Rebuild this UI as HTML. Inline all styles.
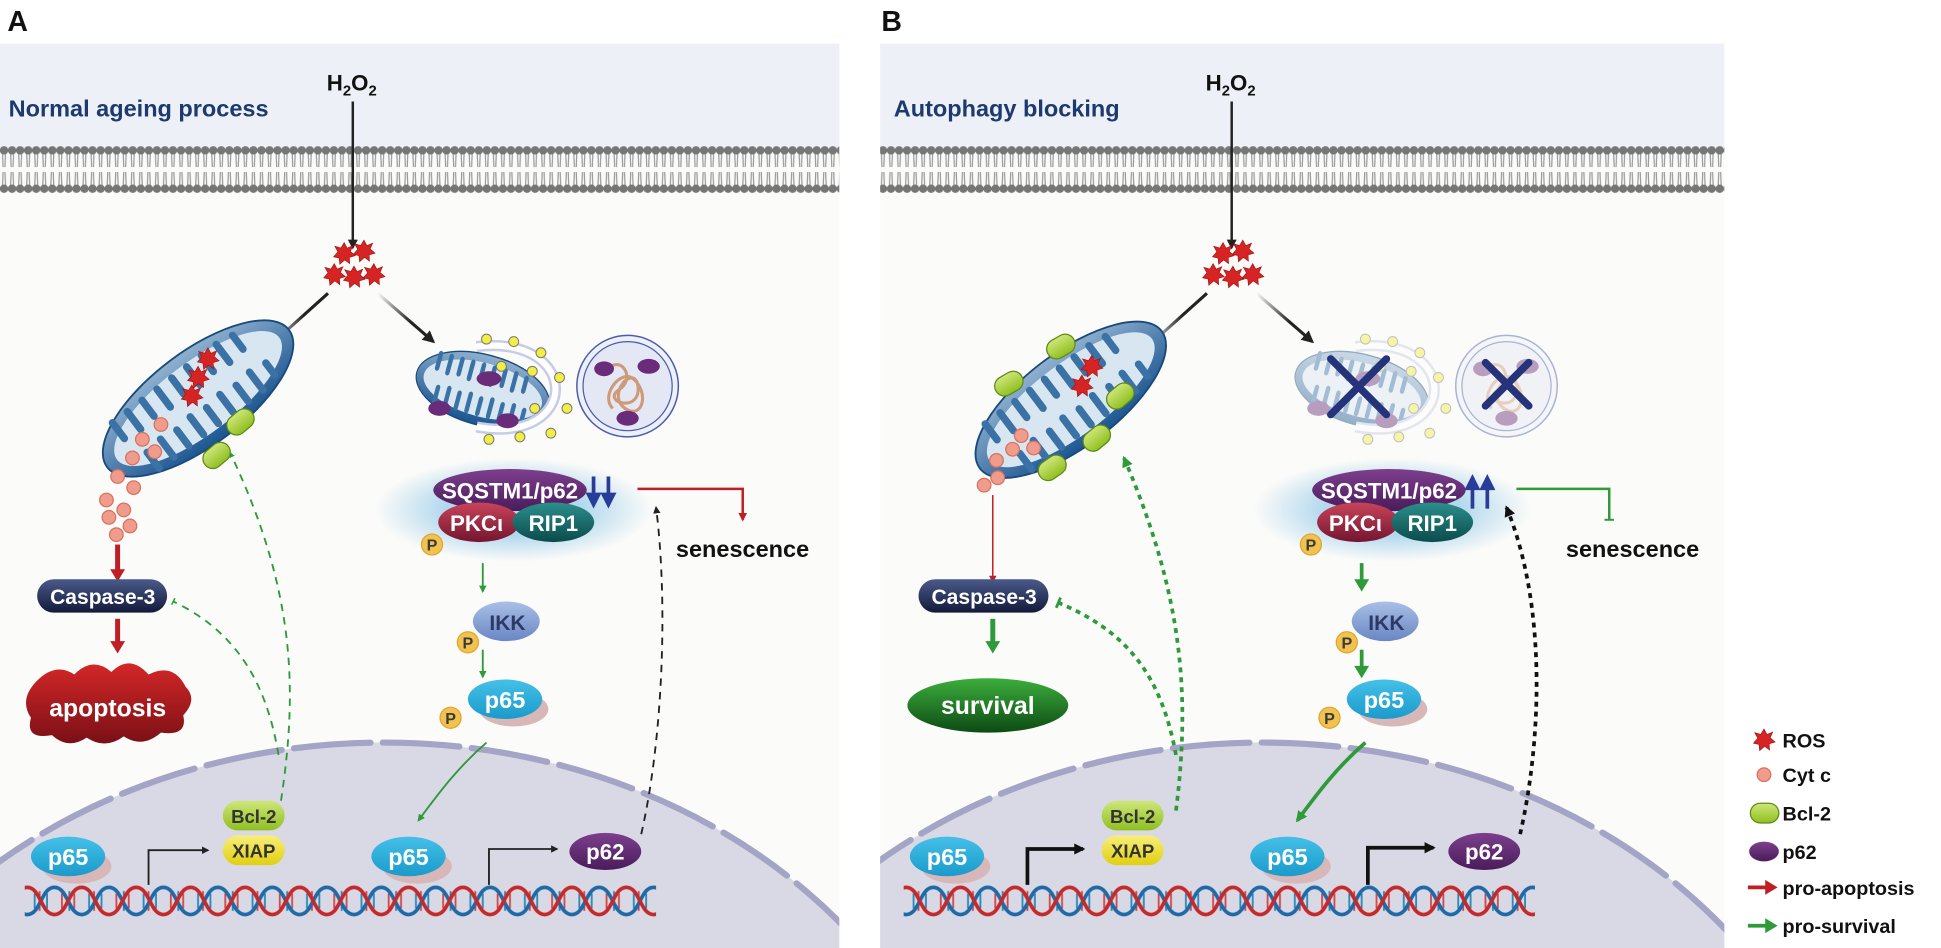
<!DOCTYPE html>
<html><head><meta charset="utf-8"><style>
html,body{margin:0;padding:0;background:#fff;width:1941px;height:948px;overflow:hidden}
svg{display:block}
text{font-family:"Liberation Sans",Arial,sans-serif;font-weight:bold}
</style></head><body>
<svg width="1941" height="948" viewBox="0 0 1568 766" preserveAspectRatio="none" xmlns="http://www.w3.org/2000/svg">
<defs>
<pattern id="mem" x="0" y="117" width="6.5" height="40" patternUnits="userSpaceOnUse">
<path d="M2 5 L2.5 18 M4.5 5 L4 18 M2 35 L2.5 22 M4.5 35 L4 22" stroke="#9a9a9a" stroke-width="1" fill="none"/>
<circle cx="3.25" cy="4.5" r="3.4" fill="#767676"/><circle cx="3.25" cy="35.5" r="3.4" fill="#767676"/>
</pattern>
<pattern id="dna" x="0" y="713" width="44" height="30" patternUnits="userSpaceOnUse">
<g stroke-width="1.5"><line x1="6" y1="9" x2="6" y2="21" stroke="#d04a4a"/><line x1="12" y1="7" x2="12" y2="23" stroke="#2a8ab8"/><line x1="16" y1="9" x2="16" y2="21" stroke="#d04a4a"/><line x1="28" y1="9" x2="28" y2="21" stroke="#2a8ab8"/><line x1="32" y1="7" x2="32" y2="23" stroke="#d04a4a"/><line x1="38" y1="9" x2="38" y2="21" stroke="#2a8ab8"/></g>
<path d="M0 4 C11 4 11 26 22 26 C33 26 33 4 44 4" stroke="#1f6aa6" stroke-width="3" fill="none"/>
<path d="M0 26 C11 26 11 4 22 4 C33 4 33 26 44 26" stroke="#c42a2a" stroke-width="3" fill="none"/>
</pattern>
<radialGradient id="glow"><stop offset="0.5" stop-color="#b4d9ee"/><stop offset="1" stop-color="#b4d9ee" stop-opacity="0"/></radialGradient>
<linearGradient id="gPurp" x1="0" y1="0" x2="0" y2="1"><stop offset="0" stop-color="#7d3f8e"/><stop offset="1" stop-color="#4a1c5a"/></linearGradient>
<linearGradient id="gRed" x1="0" y1="0" x2="0" y2="1"><stop offset="0" stop-color="#c8445a"/><stop offset="1" stop-color="#741530"/></linearGradient>
<linearGradient id="gTeal" x1="0" y1="0" x2="0" y2="1"><stop offset="0" stop-color="#2c8f8c"/><stop offset="1" stop-color="#0b4b4c"/></linearGradient>
<linearGradient id="gNavy" x1="0" y1="0" x2="0" y2="1"><stop offset="0" stop-color="#4a5a8a"/><stop offset="1" stop-color="#141a3a"/></linearGradient>
<linearGradient id="gApo" x1="0" y1="0" x2="0" y2="1"><stop offset="0" stop-color="#d42727"/><stop offset="1" stop-color="#7a1016"/></linearGradient>
<linearGradient id="gSurv" x1="0" y1="0" x2="0" y2="1"><stop offset="0" stop-color="#3cae3c"/><stop offset="1" stop-color="#0d4a14"/></linearGradient>
<linearGradient id="gIKK" x1="0" y1="0" x2="0" y2="1"><stop offset="0" stop-color="#a9c0e6"/><stop offset="1" stop-color="#6a86c4"/></linearGradient>
<linearGradient id="gP65" x1="0" y1="0" x2="0" y2="1"><stop offset="0" stop-color="#44c0e8"/><stop offset="1" stop-color="#1b9acb"/></linearGradient>
<linearGradient id="gBcl" x1="0" y1="0" x2="0" y2="1"><stop offset="0" stop-color="#cfe67a"/><stop offset="1" stop-color="#8fbf20"/></linearGradient>
<linearGradient id="gXiap" x1="0" y1="0" x2="0" y2="1"><stop offset="0" stop-color="#f7ef7a"/><stop offset="1" stop-color="#e1cf10"/></linearGradient>
<linearGradient id="gMito" x1="0" y1="0" x2="0" y2="1"><stop offset="0" stop-color="#8fb1d0"/><stop offset="1" stop-color="#1b5590"/></linearGradient>
<linearGradient id="fadeK" x1="0" y1="0" x2="1" y2="0"><stop offset="0" stop-color="#222" stop-opacity="0"/><stop offset="0.6" stop-color="#222"/></linearGradient>
<g id="star"><polygon points="0,-9 2.4,-4.5 7,-6.5 5,-1.8 9,1.5 4.2,3 4.5,8 0.5,5 -3.5,8.5 -4,3.5 -8.5,2.5 -5,-1.5 -7.5,-6 -2.6,-4.6" fill="#d62424" stroke="#a01010" stroke-width="0.5"/></g>
<g id="P"><circle r="8.5" fill="#f2c24f" stroke="#e0a530" stroke-width="1"/><text x="0" y="5" font-size="13" text-anchor="middle" fill="#3a3a3a">P</text></g>
<g id="cyt"><circle r="5.5" fill="#ef9c8c" stroke="#d9705e" stroke-width="1"/></g>
<g id="mito">
<ellipse cx="0" cy="0" rx="92" ry="38" fill="url(#gMito)" stroke="#1a4a7a" stroke-width="1.5"/>
<ellipse cx="0" cy="0" rx="82" ry="29" fill="#d8e6f2"/>
<g fill="#3b72a6">
<rect x="-70" y="-29" width="6" height="22" rx="3"/><rect x="-55" y="-29" width="6" height="24" rx="3"/><rect x="-40" y="-29" width="6" height="22" rx="3"/><rect x="-25" y="-29" width="6" height="24" rx="3"/><rect x="-10" y="-29" width="6" height="22" rx="3"/><rect x="5" y="-29" width="6" height="24" rx="3"/><rect x="20" y="-29" width="6" height="22" rx="3"/><rect x="35" y="-29" width="6" height="24" rx="3"/><rect x="50" y="-27" width="6" height="20" rx="3"/>
<rect x="-62" y="7" width="6" height="22" rx="3"/><rect x="-47" y="5" width="6" height="24" rx="3"/><rect x="-32" y="7" width="6" height="22" rx="3"/><rect x="-17" y="5" width="6" height="24" rx="3"/><rect x="-2" y="7" width="6" height="22" rx="3"/><rect x="13" y="5" width="6" height="24" rx="3"/><rect x="28" y="7" width="6" height="22" rx="3"/><rect x="43" y="5" width="6" height="24" rx="3"/><rect x="58" y="7" width="6" height="18" rx="3"/>
</g></g>
<g id="bcl"><rect x="-12" y="-8" width="24" height="16" rx="8" fill="url(#gBcl)" stroke="#5e8a12" stroke-width="1"/></g>
<g id="autoph">
<g transform="translate(390,315) rotate(15)"><g transform="scale(0.6,0.75)"><use href="#mito"/></g></g>
<path d="M385 280 C470 270 470 360 385 345" fill="none" stroke="#c6cce6" stroke-width="9"/>
<path d="M385 280 C470 270 470 360 385 345" fill="none" stroke="#fff" stroke-width="5"/>
<g fill="#f2ee44" stroke="#777" stroke-width="0.8"><circle cx="393" cy="274" r="4"/><circle cx="415" cy="276" r="4"/><circle cx="437" cy="285" r="4"/><circle cx="452" cy="305" r="4"/><circle cx="458" cy="330" r="4"/><circle cx="445" cy="350" r="4"/><circle cx="420" cy="353" r="4"/><circle cx="395" cy="355" r="4"/><circle cx="405" cy="296" r="4"/><circle cx="430" cy="300" r="4"/><circle cx="432" cy="330" r="4"/><circle cx="410" cy="340" r="4"/></g>
<g fill="#6a2c7a"><ellipse cx="395" cy="306" rx="10" ry="6"/><ellipse cx="355" cy="330" rx="9" ry="6"/><ellipse cx="410" cy="340" rx="9" ry="6"/></g>
<circle cx="507" cy="312" r="41" fill="#eef0f8" stroke="#4c5ab0" stroke-width="1.2"/><circle cx="507" cy="312" r="36" fill="#e4e8f4" stroke="#4c5ab0" stroke-width="1"/>
<path d="M490 300 c10 -15 25 5 10 15 c-15 10 20 20 15 -5 c-5 -15 -25 10 -10 20 c15 10 20 -15 5 -25 c-10 -5 -25 15 -15 25" fill="none" stroke="#cf9a7a" stroke-width="2.5"/>
<g fill="#6a2c7a"><ellipse cx="488" cy="298" rx="8" ry="6"/><ellipse cx="524" cy="296" rx="9" ry="6"/><ellipse cx="507" cy="338" rx="9" ry="6"/></g>
</g>
<g id="nuc">
<ellipse cx="310" cy="1005" rx="480" ry="405" fill="#d9d9e6"/>
<ellipse cx="310" cy="1005" rx="480" ry="405" fill="none" stroke="#a4a4c6" stroke-width="5" stroke-dasharray="62 10" stroke-linecap="round"/>
</g>
<g id="p65"><ellipse cx="7" cy="8" rx="28" ry="14" fill="#d8b7b8"/><ellipse cx="0" cy="0" rx="30" ry="16" fill="url(#gP65)"/><text x="0" y="7" font-size="19" text-anchor="middle" fill="#fff">p65</text></g>
<g id="p62"><ellipse cx="0" cy="0" rx="29" ry="15" fill="url(#gPurp)"/><text x="0" y="6.5" font-size="18" text-anchor="middle" fill="#fff">p62</text></g>
<g id="complex">
<ellipse cx="415" cy="412" rx="112" ry="42" fill="url(#glow)"/>
<ellipse cx="412" cy="396" rx="62" ry="17" fill="url(#gPurp)"/>
<text x="412" y="403" font-size="18" text-anchor="middle" fill="#fff">SQSTM1/p62</text>
<ellipse cx="387" cy="422" rx="33" ry="16" fill="url(#gRed)"/>
<text x="385" y="429" font-size="18" text-anchor="middle" fill="#fff">PKCι</text>
<ellipse cx="447" cy="422" rx="33" ry="16" fill="url(#gTeal)"/>
<text x="447" y="429" font-size="18" text-anchor="middle" fill="#fff">RIP1</text>
<use href="#P" x="349" y="440"/>
<ellipse cx="409" cy="502" rx="27" ry="16" fill="url(#gIKK)"/>
<text x="410" y="509" font-size="17" text-anchor="middle" fill="#2d3a66">IKK</text>
<use href="#P" x="378" y="519"/>
<use href="#p65" x="408" y="565"/>
<use href="#P" x="364" y="580"/>
</g>
<marker id="ak" viewBox="0 0 10 10" refX="8" refY="5" markerWidth="4" markerHeight="4" orient="auto"><path d="M0 0 L10 5 L0 10z" fill="#222"/></marker>
<marker id="ak2" viewBox="0 0 10 10" refX="8" refY="5" markerWidth="3" markerHeight="3" orient="auto"><path d="M0 0 L10 5 L0 10z" fill="#111"/></marker>
<marker id="ag" viewBox="0 0 10 10" refX="8" refY="5" markerWidth="4" markerHeight="4" orient="auto"><path d="M0 0 L10 5 L0 10z" fill="#2e9a3a"/></marker>
<marker id="ag2" viewBox="0 0 10 10" refX="8" refY="5" markerWidth="3" markerHeight="3" orient="auto"><path d="M0 0 L10 5 L0 10z" fill="#2e9a3a"/></marker>
<marker id="ar" viewBox="0 0 10 10" refX="8" refY="5" markerWidth="3.5" markerHeight="3.5" orient="auto"><path d="M0 0 L10 5 L0 10z" fill="#c01d24"/></marker>
<marker id="ar2" viewBox="0 0 10 10" refX="8" refY="5" markerWidth="5" markerHeight="5" orient="auto"><path d="M0 0 L10 5 L0 10z" fill="#c01d24"/></marker>
<marker id="tg" viewBox="0 0 10 10" refX="5" refY="5" markerWidth="4" markerHeight="4" orient="auto"><path d="M5 0 L5 10" stroke="#2e9a3a" stroke-width="2"/></marker>
<marker id="tg2" viewBox="0 0 10 10" refX="5" refY="5" markerWidth="3" markerHeight="3" orient="auto"><path d="M5 0 L5 10" stroke="#2e9a3a" stroke-width="2.5"/></marker>
<clipPath id="cA"><rect x="0" y="35" width="678" height="731"/></clipPath>
<clipPath id="cB"><rect x="1" y="35" width="682" height="731"/></clipPath>
</defs>

<rect width="1568" height="766" fill="#fff"/>
<text x="6" y="25" font-size="23" fill="#111">A</text>
<text x="712" y="25" font-size="23" fill="#111">B</text>

<!-- ================= PANEL A ================= -->
<g clip-path="url(#cA)">
<rect x="0" y="35" width="700" height="731" fill="#fbfbf9"/>
<rect x="0" y="35" width="700" height="85" fill="#edf1f7"/>
<rect x="0" y="117" width="700" height="40" fill="url(#mem)"/>
<use href="#nuc"/>
<rect x="20" y="713" width="510" height="30" fill="url(#dna)"/>
</g>
<text x="7" y="94" font-size="19" fill="#1d3a6e">Normal ageing process</text>
<text x="264" y="73" font-size="18" fill="#111">H<tspan font-size="12" dy="4">2</tspan><tspan dy="-4">O</tspan><tspan font-size="12" dy="4">2</tspan></text>
<line x1="285" y1="82" x2="285" y2="200" stroke="#222" stroke-width="2" marker-end="url(#ak)"/>
<g><use href="#star" x="278" y="205"/><use href="#star" x="294" y="203"/><use href="#star" x="270" y="222"/><use href="#star" x="286" y="224"/><use href="#star" x="302" y="222"/></g>
<line x1="265" y1="237" x2="216" y2="281" stroke="url(#fadeK)" stroke-width="2.5" marker-end="url(#ak)"/>
<line x1="305" y1="237" x2="350" y2="276" stroke="url(#fadeK)" stroke-width="2.5" marker-end="url(#ak)"/>
<g transform="translate(160,322) rotate(-37)"><use href="#mito"/></g>
<use href="#star" x="168" y="290"/><use href="#star" x="160" y="305"/><use href="#star" x="155" y="320"/>
<use href="#cyt" x="115" y="355"/><use href="#cyt" x="107" y="370"/><use href="#cyt" x="125" y="365"/><use href="#cyt" x="95" y="385"/><use href="#cyt" x="130" y="343"/>
<g transform="translate(175,368) rotate(-40)"><use href="#bcl"/></g>
<g transform="translate(193,355) rotate(-40)"><use href="#bcl" transform="translate(10,-10)"/></g>
<use href="#cyt" x="86" y="404"/><use href="#cyt" x="88" y="418"/><use href="#cyt" x="100" y="412"/><use href="#cyt" x="105" y="425"/><use href="#cyt" x="94" y="432"/><use href="#cyt" x="108" y="394"/>
<rect x="93" y="440" width="4" height="22" fill="#c01d24"/><path d="M89 460 L101 460 L95 470z" fill="#c01d24"/>
<rect x="30" y="468" width="105" height="27" rx="13.5" fill="url(#gNavy)"/>
<text x="83" y="488" font-size="17" text-anchor="middle" fill="#fff">Caspase-3</text>
<rect x="93" y="500" width="4" height="20" fill="#c01d24"/><path d="M89 518 L101 518 L95 528z" fill="#c01d24"/>
<path d="M30 550 Q45 535 60 545 Q75 530 90 543 Q105 528 120 545 Q140 535 150 555 Q160 565 148 578 Q152 595 130 592 Q115 605 100 595 Q85 606 70 596 Q55 606 42 594 Q20 598 25 580 Q15 565 30 550z" fill="url(#gApo)"/>
<text x="87" y="579" font-size="20" text-anchor="middle" fill="#fff">apoptosis</text>
<path d="M227 647 C240 560 240 480 186 366" stroke="#2e9a3a" stroke-width="1.5" fill="none" stroke-dasharray="6 5" marker-end="url(#ag2)"/>
<path d="M225 610 C215 550 190 510 140 486" stroke="#2e9a3a" stroke-width="1.5" fill="none" stroke-dasharray="6 5" marker-end="url(#tg)"/>
<use href="#autoph"/>
<use href="#complex"/>
<g fill="#2a3c9a"><rect x="478" y="385" width="3" height="16"/><rect x="490" y="385" width="3" height="16"/><path d="M473 398 L486 398 L479.5 411z"/><path d="M485 398 L498 398 L491.5 411z"/></g>
<path d="M515 395 L600 395 L600 420" stroke="#c01d24" stroke-width="2" fill="none" marker-end="url(#ar)"/>
<text x="546" y="450" font-size="19" fill="#111">senescence</text>
<path d="M518 674 C535 600 540 490 530 410" stroke="#222" stroke-width="1.5" fill="none" stroke-dasharray="6 5" marker-end="url(#ak)"/>
<line x1="390" y1="455" x2="390" y2="478" stroke="#2e9a3a" stroke-width="1.5" marker-end="url(#ag)"/>
<line x1="390" y1="525" x2="390" y2="547" stroke="#2e9a3a" stroke-width="1.5" marker-end="url(#ag)"/>
<path d="M393 600 C370 620 355 640 338 663" stroke="#2e9a3a" stroke-width="1.5" fill="none" marker-end="url(#ag)"/>
<rect x="180" y="647" width="50" height="24" rx="12" fill="url(#gBcl)"/><text x="205" y="665" font-size="15" text-anchor="middle" fill="#333">Bcl-2</text>
<rect x="180" y="675" width="50" height="24" rx="12" fill="url(#gXiap)"/><text x="205" y="693" font-size="15" text-anchor="middle" fill="#333">XIAP</text>
<use href="#p65" x="55" y="692"/>
<use href="#p65" x="330" y="692"/>
<use href="#p62" x="489" y="688"/>
<path d="M120 715 L120 687 L168 687" stroke="#222" stroke-width="1.5" fill="none" marker-end="url(#ak)"/>
<path d="M395 715 L395 686 L450 686" stroke="#222" stroke-width="1.5" fill="none" marker-end="url(#ak)"/>

<!-- ================= PANEL B ================= -->
<g transform="translate(710,0)">
<g clip-path="url(#cB)">
<rect x="0" y="35" width="703" height="731" fill="#fbfbf9"/>
<rect x="0" y="35" width="703" height="85" fill="#edf1f7"/>
<rect x="0" y="117" width="703" height="40" fill="url(#mem)"/>
<use href="#nuc"/>
<rect x="20" y="713" width="510" height="30" fill="url(#dna)"/>
</g>
<text x="12" y="94" font-size="19" fill="#1d3a6e">Autophagy blocking</text>
<text x="264" y="73" font-size="18" fill="#111">H<tspan font-size="12" dy="4">2</tspan><tspan dy="-4">O</tspan><tspan font-size="12" dy="4">2</tspan></text>
<line x1="285" y1="82" x2="285" y2="200" stroke="#222" stroke-width="2" marker-end="url(#ak)"/>
<g><use href="#star" x="278" y="205"/><use href="#star" x="294" y="203"/><use href="#star" x="270" y="222"/><use href="#star" x="286" y="224"/><use href="#star" x="302" y="222"/></g>
<line x1="265" y1="237" x2="216" y2="281" stroke="url(#fadeK)" stroke-width="2.5" marker-end="url(#ak)"/>
<line x1="305" y1="237" x2="350" y2="276" stroke="url(#fadeK)" stroke-width="2.5" marker-end="url(#ak)"/>
<g transform="translate(155,323) rotate(-37)"><use href="#mito"/></g>
<use href="#star" x="172" y="296"/><use href="#star" x="164" y="312"/>
<use href="#cyt" x="115" y="352"/><use href="#cyt" x="108" y="363"/><use href="#cyt" x="125" y="362"/><use href="#cyt" x="95" y="372"/>
<g transform="translate(105,310) rotate(-30)"><use href="#bcl"/></g>
<g transform="translate(147,280) rotate(-30)"><use href="#bcl"/></g>
<g transform="translate(195,320) rotate(-40)"><use href="#bcl"/></g>
<g transform="translate(176,354) rotate(-40)"><use href="#bcl"/></g>
<g transform="translate(140,378) rotate(-35)"><use href="#bcl"/></g>
<use href="#cyt" x="85" y="392"/><use href="#cyt" x="96" y="386"/>
<line x1="92" y1="400" x2="92" y2="470" stroke="#c01d24" stroke-width="1.2" marker-end="url(#ar2)"/>
<rect x="32" y="468" width="105" height="27" rx="13.5" fill="url(#gNavy)"/>
<text x="85" y="488" font-size="17" text-anchor="middle" fill="#fff">Caspase-3</text>
<rect x="90" y="500" width="4" height="20" fill="#2e9a3a"/><path d="M86 518 L98 518 L92 528z" fill="#2e9a3a"/>
<ellipse cx="88" cy="570" rx="65" ry="22" fill="url(#gSurv)"/>
<text x="88" y="577" font-size="20" text-anchor="middle" fill="#fff">survival</text>
<path d="M240 655 C252 560 245 480 198 370" stroke="#2e9a3a" stroke-width="3" fill="none" stroke-dasharray="4 4" marker-end="url(#ag2)"/>
<path d="M240 610 C228 545 200 510 145 487" stroke="#2e9a3a" stroke-width="3" fill="none" stroke-dasharray="4 4" marker-end="url(#tg2)"/>
<g opacity="0.45"><use href="#autoph"/></g>
<g stroke="#24337a" stroke-width="6" stroke-linecap="round"><line x1="365" y1="290" x2="410" y2="335"/><line x1="410" y1="290" x2="365" y2="335"/><line x1="490" y1="293" x2="525" y2="328"/><line x1="525" y1="293" x2="490" y2="328"/></g>
<use href="#complex"/>
<g fill="#2a3c9a"><rect x="478" y="393" width="3" height="18"/><rect x="490" y="393" width="3" height="18"/><path d="M473 396 L486 396 L479.5 383z"/><path d="M485 396 L498 396 L491.5 383z"/></g>
<path d="M515 395 L590 395 L590 420" stroke="#2e9a3a" stroke-width="2" fill="none" marker-end="url(#tg)"/>
<text x="555" y="450" font-size="19" fill="#111">senescence</text>
<path d="M518 674 C535 600 540 490 507 410" stroke="#111" stroke-width="3" fill="none" stroke-dasharray="4 4" marker-end="url(#ak2)"/>
<rect x="388.5" y="455" width="3" height="15" fill="#2e9a3a"/><path d="M384 468 L396 468 L390 478z" fill="#2e9a3a"/>
<rect x="388.5" y="525" width="3" height="15" fill="#2e9a3a"/><path d="M384 538 L396 538 L390 548z" fill="#2e9a3a"/>
<path d="M393 600 C370 620 355 640 338 663" stroke="#2e9a3a" stroke-width="3" fill="none" marker-end="url(#ag2)"/>
<rect x="180" y="647" width="50" height="24" rx="12" fill="url(#gBcl)"/><text x="205" y="665" font-size="15" text-anchor="middle" fill="#333">Bcl-2</text>
<rect x="180" y="675" width="50" height="24" rx="12" fill="url(#gXiap)"/><text x="205" y="693" font-size="15" text-anchor="middle" fill="#333">XIAP</text>
<use href="#p65" x="55" y="692"/>
<use href="#p65" x="330" y="692"/>
<use href="#p62" x="489" y="688"/>
<path d="M120 715 L120 686 L165 686" stroke="#111" stroke-width="3" fill="none" marker-end="url(#ak2)"/>
<path d="M395 715 L395 685 L448 685" stroke="#111" stroke-width="3" fill="none" marker-end="url(#ak2)"/>
</g>

<!-- ================= LEGEND ================= -->
<use href="#star" x="1425" y="598"/>
<text x="1440" y="604" font-size="16" fill="#111">ROS</text>
<use href="#cyt" x="1425" y="626"/>
<text x="1440" y="632" font-size="16" fill="#111">Cyt c</text>
<rect x="1414" y="649" width="23" height="16" rx="8" fill="url(#gBcl)" stroke="#5e8a12"/>
<text x="1440" y="663" font-size="16" fill="#111">Bcl-2</text>
<ellipse cx="1425" cy="688" rx="12" ry="8" fill="url(#gPurp)"/>
<text x="1440" y="694" font-size="16" fill="#111">p62</text>
<path d="M1412 717 L1428 717" stroke="#c01d24" stroke-width="3"/><path d="M1426 711 L1436 717 L1426 723z" fill="#c01d24"/>
<text x="1440" y="723" font-size="16" fill="#111">pro-apoptosis</text>
<path d="M1412 748 L1428 748" stroke="#2e9a3a" stroke-width="3"/><path d="M1426 742 L1436 748 L1426 754z" fill="#2e9a3a"/>
<text x="1440" y="754" font-size="16" fill="#111">pro-survival</text>
</svg>
</body></html>
